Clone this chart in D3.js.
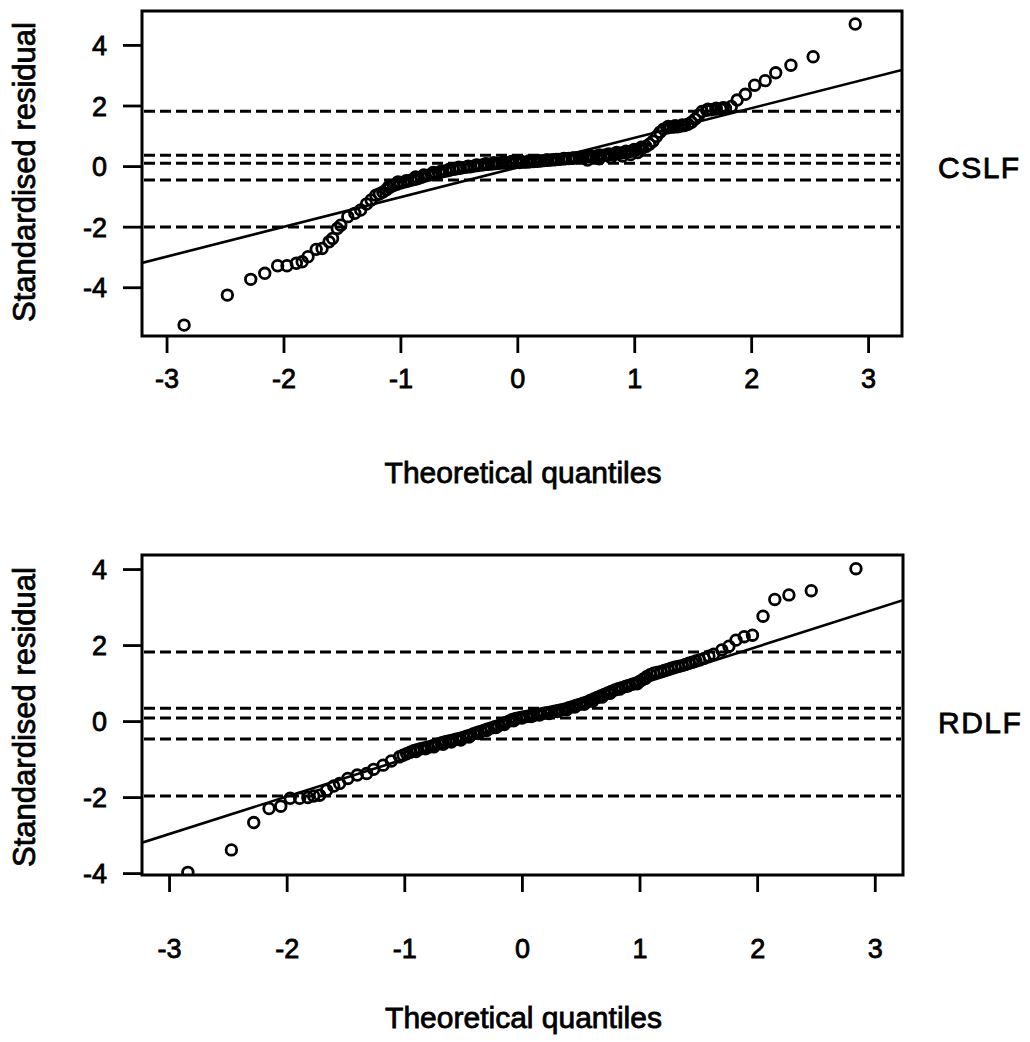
<!DOCTYPE html>
<html><head><meta charset="utf-8">
<script src="https://cdn.jsdelivr.net/npm/d3@7"></script>
<style>body{margin:0;background:#fff}svg{display:block}</style>
</head><body><svg id="c" width="1030" height="1042"></svg>
<script>
const xTickValues=[-3,-2,-1,0,1,2,3];
const yTickValues=[-4,-2,0,2,4];
const xTitle="Theoretical quantiles";
const yTitle="Standardised residual";

// CSLF panel
const cslfTheoretical=[-2.85,-2.48,-2.28,-2.16,-2.05,-1.97,-1.89,-1.84,-1.79,-1.72,-1.67,-1.61,-1.58,-1.54,-1.51,-1.45,-1.39,-1.34,-1.29,-1.25,-1.21,
-1.18,-1.15,-1.12,-1.09,-1.06,-1.03,-1.00,-0.97,-0.94,-0.91,-0.88,-0.85,-0.82,-0.79,-0.76,-0.73,-0.70,-0.67,-0.64,-0.61,-0.58,-0.55,-0.52,-0.49,-0.46,-0.43,-0.40,-0.37,-0.34,-0.31,-0.28,-0.25,-0.22,-0.19,-0.16,-0.13,-0.10,-0.07,-0.04,-0.01,
0.02,0.05,0.08,0.11,0.14,0.17,0.20,0.23,0.26,0.29,0.32,0.35,0.38,0.41,0.44,0.47,0.50,0.53,0.56,0.59,0.62,0.65,0.68,0.71,0.74,0.77,0.80,0.83,0.86,0.89,0.92,0.95,0.98,1.01,1.04,1.07,1.10,1.13,1.16,1.19,1.22,1.25,1.28,1.31,1.34,1.37,1.40,1.43,1.46,1.49,1.52,1.55,1.58,1.62,1.66,1.70,1.74,1.78,1.83,
1.88,1.95,2.03,2.12,2.21,2.34,2.53,2.89];
const cslfResidual=[-5.25,-4.26,-3.74,-3.54,-3.29,-3.29,-3.21,-3.16,-2.99,-2.75,-2.72,-2.50,-2.39,-2.06,-1.95,-1.67,-1.56,-1.45,-1.25,-1.12,-0.96,
-0.92,-0.86,-0.78,-0.70,-0.64,-0.60,-0.56,-0.53,-0.50,-0.47,-0.44,-0.41,-0.37,-0.33,-0.30,-0.27,-0.24,-0.22,-0.19,-0.16,-0.14,-0.11,-0.09,-0.07,-0.05,-0.03,-0.02,0.00,0.02,0.03,0.05,0.06,0.07,0.08,0.09,0.10,0.10,0.11,0.11,0.12,
0.12,0.13,0.13,0.14,0.15,0.16,0.17,0.18,0.19,0.20,0.21,0.22,0.23,0.24,0.25,0.26,0.27,0.28,0.29,0.30,0.31,0.32,0.33,0.34,0.36,0.37,0.38,0.40,0.41,0.43,0.45,0.47,0.50,0.53,0.56,0.60,0.65,0.72,0.82,0.98,1.12,1.22,1.26,1.28,1.29,1.30,1.32,1.34,1.38,1.45,1.55,1.68,1.80,1.84,1.86,1.88,1.89,1.91,1.97,
2.18,2.37,2.67,2.82,3.08,3.33,3.61,4.69];
// further points read from the thick part of the CSLF band
const cslfBandTheoretical=[-1.10,-1.02,-0.95,-0.87,-0.80,-0.72,-0.65,-0.58,-0.50,-0.42,-0.35,-0.27,-0.20,-0.12,-0.05,0.03,0.10,0.18,0.25,0.33,0.40,0.48,0.55,0.63,0.70,0.78,0.85,0.93,1.00,1.06,1.29,1.35,1.41,1.63,1.70,1.76,
0.60,0.70,0.80,0.90,0.97,1.03];
const cslfBandResidual=[-0.68,-0.52,-0.48,-0.36,-0.29,-0.21,-0.16,-0.10,-0.04,0.00,0.04,0.08,0.11,0.13,0.15,0.16,0.17,0.18,0.20,0.22,0.25,0.27,0.30,0.33,0.37,0.40,0.45,0.49,0.55,0.62,1.31,1.33,1.36,1.88,1.91,1.93,
0.20,0.24,0.28,0.33,0.38,0.45];
const cslfRefLines=[1.81,0.36,0.09,-0.46,-2.01];
const cslfFit=[-0.05,0.98];

// RDLF panel
const rdlfTheoretical=[-2.84,-2.47,-2.28,-2.15,-2.05,-1.97,-1.89,-1.82,-1.77,-1.72,-1.66,-1.60,-1.55,-1.48,-1.40,-1.32,-1.26,-1.18,-1.11,
-1.04,-1.01,-0.98,-0.95,-0.92,-0.89,-0.86,-0.83,-0.80,-0.77,-0.74,-0.71,-0.68,-0.65,-0.62,-0.59,-0.56,-0.53,-0.50,-0.47,-0.44,-0.41,-0.38,-0.35,-0.32,-0.29,-0.26,-0.23,-0.20,-0.17,-0.14,-0.11,-0.08,-0.05,-0.02,
0.01,0.04,0.07,0.10,0.13,0.16,0.19,0.22,0.25,0.28,0.31,0.34,0.37,0.40,0.43,0.46,0.49,0.52,0.55,0.58,0.61,0.64,0.67,0.70,0.73,0.76,0.79,0.82,0.85,0.88,0.91,0.94,0.97,1.00,1.03,1.06,1.09,1.12,1.15,1.18,1.21,1.24,1.27,1.30,1.33,1.36,1.39,1.42,1.45,1.48,1.51,1.55,1.59,1.63,
1.70,1.76,1.82,1.89,1.96,2.05,2.15,2.27,2.46,2.84];
const rdlfResidual=[-3.98,-3.39,-2.67,-2.30,-2.24,-2.03,-2.03,-2.01,-1.97,-1.95,-1.82,-1.71,-1.64,-1.51,-1.42,-1.38,-1.27,-1.16,-1.05,
-0.94,-0.90,-0.86,-0.82,-0.78,-0.75,-0.73,-0.71,-0.69,-0.66,-0.63,-0.60,-0.57,-0.54,-0.52,-0.50,-0.48,-0.46,-0.43,-0.40,-0.37,-0.33,-0.30,-0.27,-0.24,-0.21,-0.18,-0.15,-0.12,-0.08,-0.04,0.00,0.04,0.07,0.09,
0.11,0.12,0.14,0.15,0.17,0.19,0.21,0.22,0.24,0.26,0.28,0.30,0.32,0.35,0.38,0.41,0.44,0.47,0.50,0.54,0.58,0.62,0.66,0.70,0.74,0.78,0.82,0.85,0.88,0.91,0.94,0.97,1.00,1.04,1.10,1.17,1.22,1.26,1.28,1.30,1.33,1.36,1.39,1.42,1.44,1.46,1.49,1.52,1.55,1.58,1.61,1.65,1.71,1.76,
1.87,1.97,2.13,2.22,2.26,2.76,3.20,3.32,3.43,4.01];
// further points read from the thick part of the RDLF band
const rdlfBandTheoretical=[-0.90,-0.82,-0.75,-0.67,-0.60,-0.52,-0.45,-0.37,-0.30,-0.22,-0.15,-0.07,0.00,0.08,0.15,0.23,0.30,0.38,0.45,0.53,0.60,0.68,0.75,0.83,0.90,0.98,1.05];
const rdlfBandResidual=[-0.80,-0.73,-0.68,-0.61,-0.55,-0.50,-0.42,-0.33,-0.25,-0.17,-0.09,0.01,0.08,0.12,0.16,0.20,0.25,0.30,0.37,0.44,0.52,0.63,0.73,0.84,0.92,0.98,1.12];
const rdlfRefLines=[1.82,0.34,0.08,-0.47,-1.97];
const rdlfFit=[-0.015,0.986];

const svg=d3.select("#c");
const FONT="Arial, 'Liberation Sans', Helvetica, sans-serif";

function styleText(sel,size){
  sel.attr("font-family",FONT).attr("font-size",size).attr("fill","#000")
     .attr("stroke","#000").attr("stroke-width",0.8);
}

function panel(cfg){
  const x=d3.scaleLinear().domain(cfg.xDomain).range([cfg.left,cfg.right]);
  const y=d3.scaleLinear().domain(cfg.yDomain).range([cfg.bottom,cfg.top]);
  const g=svg.append("g");
  const clipId="clip"+cfg.name;
  g.append("clipPath").attr("id",clipId).append("rect")
    .attr("x",cfg.left).attr("y",cfg.top).attr("width",cfg.right-cfg.left).attr("height",cfg.bottom-cfg.top);
  const plot=g.append("g").attr("clip-path",`url(#${clipId})`);

  plot.selectAll("line.ref").data(cfg.refs).join("line").attr("class","ref")
    .attr("x1",cfg.left+2).attr("x2",cfg.right-2)
    .attr("y1",d=>y(d)).attr("y2",d=>y(d))
    .attr("stroke","#000").attr("stroke-width",3).attr("stroke-dasharray","11,5");

  const [a,b]=cfg.fit;
  plot.append("line")
    .attr("x1",x(cfg.xDomain[0])).attr("y1",y(a+b*cfg.xDomain[0]))
    .attr("x2",x(cfg.xDomain[1])).attr("y2",y(a+b*cfg.xDomain[1]))
    .attr("stroke","#000").attr("stroke-width",2.6);

  const pts=cfg.xs.map((v,i)=>[v,cfg.ys[i]]).concat(cfg.bx.map((v,i)=>[v,cfg.by[i]]));
  plot.selectAll("circle").data(pts).join("circle")
    .attr("cx",d=>x(d[0])).attr("cy",d=>y(d[1])).attr("r",5.3)
    .attr("fill","none").attr("stroke","#000").attr("stroke-width",2.8);

  g.append("rect").attr("x",cfg.left).attr("y",cfg.top)
    .attr("width",cfg.right-cfg.left).attr("height",cfg.bottom-cfg.top)
    .attr("fill","none").attr("stroke","#000").attr("stroke-width",3);

  const xa=g.append("g").attr("transform",`translate(0,${cfg.bottom+1})`)
    .call(d3.axisBottom(x).tickValues(xTickValues).tickSize(16).tickPadding(0).tickFormat(d3.format("d")));
  xa.select(".domain").remove();
  xa.selectAll(".tick line").attr("stroke","#000").attr("stroke-width",2.8);
  styleText(xa.selectAll(".tick text").attr("y",cfg.xLabelY-cfg.bottom-1).attr("dy","0.36em")
    .text(d=>d<0?"-"+Math.abs(d):d),27);

  const ya=g.append("g").attr("transform",`translate(${cfg.left},0)`)
    .call(d3.axisLeft(y).tickValues(yTickValues).tickSize(19).tickPadding(0).tickFormat(d3.format("d")));
  ya.select(".domain").remove();
  ya.selectAll(".tick line").attr("stroke","#000").attr("stroke-width",2.8);
  styleText(ya.selectAll(".tick text").attr("x",-35).attr("dy","0.36em")
    .text(d=>d<0?"-"+Math.abs(d):d),27);

  styleText(g.append("text").attr("x",(cfg.left+cfg.right)/2+1).attr("y",cfg.xTitleY).attr("dy","0.36em")
    .attr("text-anchor","middle").text(xTitle),30);
  styleText(g.append("text").attr("transform",`translate(24,${cfg.yTitleY}) rotate(-90)`).attr("dy","0.36em")
    .attr("text-anchor","middle").text(yTitle),31);
  styleText(g.append("text").attr("x",cfg.labelX).attr("y",y(0)+1).attr("dy","0.36em")
    .attr("letter-spacing",1.5).text(cfg.name),30);
}

panel({name:"CSLF",left:142,right:902,top:11,bottom:336,xDomain:[-3.21,3.29],yDomain:[-5.61,5.12],
  xs:cslfTheoretical,ys:cslfResidual,bx:cslfBandTheoretical,by:cslfBandResidual,refs:cslfRefLines,fit:cslfFit,xLabelY:378,xTitleY:472,yTitleY:172,labelX:938});
panel({name:"RDLF",left:142,right:903,top:555,bottom:875,xDomain:[-3.23,3.24],yDomain:[-4.05,4.37],
  xs:rdlfTheoretical,ys:rdlfResidual,bx:rdlfBandTheoretical,by:rdlfBandResidual,refs:rdlfRefLines,fit:rdlfFit,xLabelY:948,xTitleY:1017,yTitleY:717,labelX:938});
</script></body></html>
